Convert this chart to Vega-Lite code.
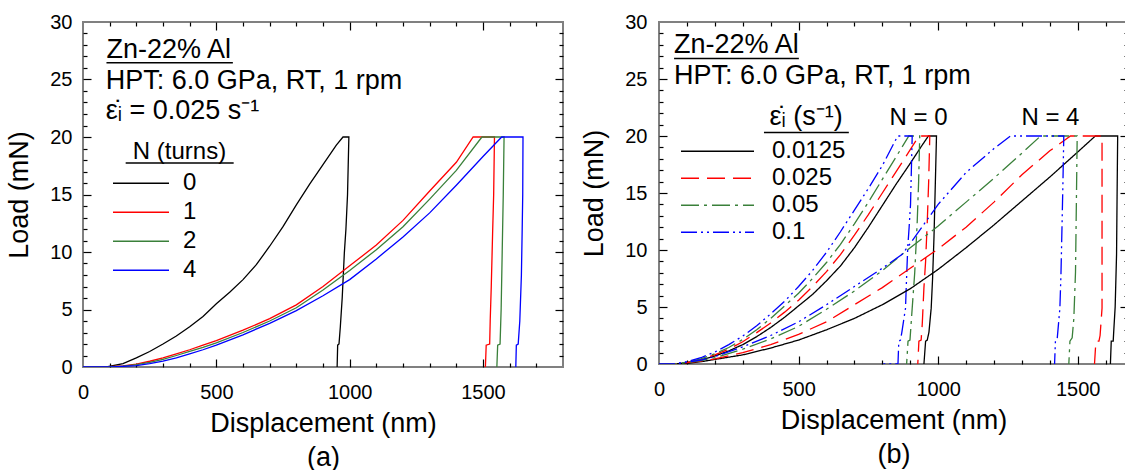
{
  "$schema": "https://vega.github.io/schema/vega-lite/v6.json",
  "padding": {"left": 4, "top": 11, "right": 0, "bottom": 0},
  "spacing": 14,
  "resolve": {"scale": {"color": "independent", "strokeDash": "independent"}, "legend": {"color": "independent", "strokeDash": "independent"}},
  "datasets": {
    "a": [
      {"N":"0","i":1,"d":0,"load":0},{"N":"0","i":2,"d":88,"load":0},{"N":"0","i":3,"d":150,"load":0.3},{"N":"0","i":4,"d":200,"load":0.8},{"N":"0","i":5,"d":250,"load":1.35},{"N":"0","i":6,"d":300,"load":2.0},{"N":"0","i":7,"d":350,"load":2.7},{"N":"0","i":8,"d":400,"load":3.5},{"N":"0","i":9,"d":450,"load":4.4},{"N":"0","i":10,"d":500,"load":5.5},{"N":"0","i":11,"d":550,"load":6.5},{"N":"0","i":12,"d":600,"load":7.6},{"N":"0","i":13,"d":650,"load":8.9},{"N":"0","i":14,"d":700,"load":10.5},{"N":"0","i":15,"d":750,"load":12.2},{"N":"0","i":16,"d":800,"load":14.1},{"N":"0","i":17,"d":850,"load":15.9},{"N":"0","i":18,"d":900,"load":17.6},{"N":"0","i":19,"d":950,"load":19.3},{"N":"0","i":20,"d":975,"load":20},{"N":"0","i":21,"d":997,"load":20},{"N":"0","i":22,"d":992,"load":15},{"N":"0","i":23,"d":986,"load":12},{"N":"0","i":24,"d":980,"load":9.9},{"N":"0","i":25,"d":972,"load":6},{"N":"0","i":26,"d":965,"load":3.5},{"N":"0","i":27,"d":960,"load":2.0},{"N":"0","i":28,"d":955,"load":1.9},{"N":"0","i":29,"d":953,"load":0},
      {"N":"1","i":1,"d":0,"load":0},{"N":"1","i":2,"d":80,"load":0},{"N":"1","i":3,"d":150,"load":0.1},{"N":"1","i":4,"d":200,"load":0.25},{"N":"1","i":5,"d":250,"load":0.5},{"N":"1","i":6,"d":300,"load":0.8},{"N":"1","i":7,"d":350,"load":1.15},{"N":"1","i":8,"d":400,"load":1.5},{"N":"1","i":9,"d":450,"load":1.9},{"N":"1","i":10,"d":500,"load":2.3},{"N":"1","i":11,"d":600,"load":3.2},{"N":"1","i":12,"d":700,"load":4.2},{"N":"1","i":13,"d":800,"load":5.4},{"N":"1","i":14,"d":900,"load":7.0},{"N":"1","i":15,"d":1000,"load":8.8},{"N":"1","i":16,"d":1100,"load":10.6},{"N":"1","i":17,"d":1200,"load":12.75},{"N":"1","i":18,"d":1300,"load":15.3},{"N":"1","i":19,"d":1400,"load":17.8},{"N":"1","i":20,"d":1463,"load":20},{"N":"1","i":21,"d":1543,"load":20},{"N":"1","i":22,"d":1540,"load":15},{"N":"1","i":23,"d":1536,"load":11.6},{"N":"1","i":24,"d":1531,"load":7},{"N":"1","i":25,"d":1527,"load":4},{"N":"1","i":26,"d":1525,"load":2},{"N":"1","i":27,"d":1512,"load":1.9},{"N":"1","i":28,"d":1509,"load":0},
      {"N":"2","i":1,"d":0,"load":0},{"N":"2","i":2,"d":90,"load":0},{"N":"2","i":3,"d":150,"load":0.08},{"N":"2","i":4,"d":200,"load":0.2},{"N":"2","i":5,"d":250,"load":0.4},{"N":"2","i":6,"d":300,"load":0.66},{"N":"2","i":7,"d":350,"load":1.0},{"N":"2","i":8,"d":400,"load":1.35},{"N":"2","i":9,"d":450,"load":1.7},{"N":"2","i":10,"d":500,"load":2.1},{"N":"2","i":11,"d":600,"load":3.0},{"N":"2","i":12,"d":700,"load":4.0},{"N":"2","i":13,"d":800,"load":5.15},{"N":"2","i":14,"d":900,"load":6.7},{"N":"2","i":15,"d":1000,"load":8.4},{"N":"2","i":16,"d":1100,"load":10.2},{"N":"2","i":17,"d":1200,"load":12.2},{"N":"2","i":18,"d":1300,"load":14.6},{"N":"2","i":19,"d":1400,"load":17.1},{"N":"2","i":20,"d":1496,"load":20},{"N":"2","i":21,"d":1579,"load":20},{"N":"2","i":22,"d":1576,"load":15},{"N":"2","i":23,"d":1572,"load":10},{"N":"2","i":24,"d":1568,"load":5},{"N":"2","i":25,"d":1564,"load":2},{"N":"2","i":26,"d":1555,"load":1.9},{"N":"2","i":27,"d":1552,"load":0},
      {"N":"4","i":1,"d":0,"load":0},{"N":"4","i":2,"d":110,"load":0},{"N":"4","i":3,"d":200,"load":0.12},{"N":"4","i":4,"d":250,"load":0.3},{"N":"4","i":5,"d":300,"load":0.52},{"N":"4","i":6,"d":350,"load":0.8},{"N":"4","i":7,"d":400,"load":1.15},{"N":"4","i":8,"d":450,"load":1.5},{"N":"4","i":9,"d":500,"load":1.9},{"N":"4","i":10,"d":600,"load":2.8},{"N":"4","i":11,"d":700,"load":3.8},{"N":"4","i":12,"d":800,"load":4.9},{"N":"4","i":13,"d":900,"load":6.2},{"N":"4","i":14,"d":1000,"load":7.6},{"N":"4","i":15,"d":1100,"load":9.4},{"N":"4","i":16,"d":1200,"load":11.3},{"N":"4","i":17,"d":1300,"load":13.4},{"N":"4","i":18,"d":1400,"load":15.8},{"N":"4","i":19,"d":1500,"load":18.3},{"N":"4","i":20,"d":1570,"load":20},{"N":"4","i":21,"d":1650,"load":20},{"N":"4","i":22,"d":1649,"load":15},{"N":"4","i":23,"d":1647,"load":12},{"N":"4","i":24,"d":1644,"load":8},{"N":"4","i":25,"d":1638,"load":4},{"N":"4","i":26,"d":1632,"load":2},{"N":"4","i":27,"d":1625,"load":1.9},{"N":"4","i":28,"d":1623,"load":0}
    ],
    "b": [
      {"rate":"0.0125","N":0,"i":1,"d":0,"load":0},{"rate":"0.0125","N":0,"i":2,"d":55,"load":0},{"rate":"0.0125","N":0,"i":3,"d":100,"load":0.12},{"rate":"0.0125","N":0,"i":4,"d":150,"load":0.35},{"rate":"0.0125","N":0,"i":5,"d":200,"load":0.7},{"rate":"0.0125","N":0,"i":6,"d":250,"load":1.15},{"rate":"0.0125","N":0,"i":7,"d":300,"load":1.7},{"rate":"0.0125","N":0,"i":8,"d":350,"load":2.4},{"rate":"0.0125","N":0,"i":9,"d":400,"load":3.2},{"rate":"0.0125","N":0,"i":10,"d":450,"load":4.1},{"rate":"0.0125","N":0,"i":11,"d":500,"load":5.1},{"rate":"0.0125","N":0,"i":12,"d":550,"load":6.1},{"rate":"0.0125","N":0,"i":13,"d":600,"load":7.3},{"rate":"0.0125","N":0,"i":14,"d":650,"load":8.6},{"rate":"0.0125","N":0,"i":15,"d":700,"load":10.2},{"rate":"0.0125","N":0,"i":16,"d":750,"load":12.0},{"rate":"0.0125","N":0,"i":17,"d":800,"load":13.9},{"rate":"0.0125","N":0,"i":18,"d":850,"load":15.8},{"rate":"0.0125","N":0,"i":19,"d":900,"load":17.6},{"rate":"0.0125","N":0,"i":20,"d":940,"load":19.1},{"rate":"0.0125","N":0,"i":21,"d":965,"load":20},{"rate":"0.0125","N":0,"i":22,"d":994,"load":20},{"rate":"0.0125","N":0,"i":23,"d":990,"load":16},{"rate":"0.0125","N":0,"i":24,"d":985,"load":11.1},{"rate":"0.0125","N":0,"i":25,"d":980,"load":7.5},{"rate":"0.0125","N":0,"i":26,"d":975,"load":4.9},{"rate":"0.0125","N":0,"i":27,"d":967,"load":2.8},{"rate":"0.0125","N":0,"i":28,"d":961,"load":2.1},{"rate":"0.0125","N":0,"i":29,"d":955,"load":2.0},{"rate":"0.0125","N":0,"i":30,"d":949,"load":0},
      {"rate":"0.025","N":0,"i":1,"d":0,"load":0},{"rate":"0.025","N":0,"i":2,"d":60,"load":0},{"rate":"0.025","N":0,"i":3,"d":100,"load":0.12},{"rate":"0.025","N":0,"i":4,"d":150,"load":0.4},{"rate":"0.025","N":0,"i":5,"d":200,"load":0.8},{"rate":"0.025","N":0,"i":6,"d":250,"load":1.3},{"rate":"0.025","N":0,"i":7,"d":300,"load":1.95},{"rate":"0.025","N":0,"i":8,"d":350,"load":2.75},{"rate":"0.025","N":0,"i":9,"d":400,"load":3.6},{"rate":"0.025","N":0,"i":10,"d":450,"load":4.55},{"rate":"0.025","N":0,"i":11,"d":500,"load":5.6},{"rate":"0.025","N":0,"i":12,"d":550,"load":6.8},{"rate":"0.025","N":0,"i":13,"d":600,"load":8.1},{"rate":"0.025","N":0,"i":14,"d":650,"load":9.6},{"rate":"0.025","N":0,"i":15,"d":700,"load":11.3},{"rate":"0.025","N":0,"i":16,"d":750,"load":13.1},{"rate":"0.025","N":0,"i":17,"d":800,"load":15.0},{"rate":"0.025","N":0,"i":18,"d":850,"load":16.9},{"rate":"0.025","N":0,"i":19,"d":900,"load":18.8},{"rate":"0.025","N":0,"i":20,"d":931,"load":20},{"rate":"0.025","N":0,"i":21,"d":970,"load":20},{"rate":"0.025","N":0,"i":22,"d":966,"load":16},{"rate":"0.025","N":0,"i":23,"d":961,"load":12.5},{"rate":"0.025","N":0,"i":24,"d":955,"load":9},{"rate":"0.025","N":0,"i":25,"d":949,"load":6.7},{"rate":"0.025","N":0,"i":26,"d":943,"load":3.5},{"rate":"0.025","N":0,"i":27,"d":939,"load":2.1},{"rate":"0.025","N":0,"i":28,"d":931,"load":2.0},{"rate":"0.025","N":0,"i":29,"d":927,"load":0},
      {"rate":"0.05","N":0,"i":1,"d":0,"load":0},{"rate":"0.05","N":0,"i":2,"d":60,"load":0},{"rate":"0.05","N":0,"i":3,"d":100,"load":0.15},{"rate":"0.05","N":0,"i":4,"d":150,"load":0.45},{"rate":"0.05","N":0,"i":5,"d":200,"load":0.9},{"rate":"0.05","N":0,"i":6,"d":250,"load":1.45},{"rate":"0.05","N":0,"i":7,"d":300,"load":2.15},{"rate":"0.05","N":0,"i":8,"d":350,"load":3.0},{"rate":"0.05","N":0,"i":9,"d":400,"load":4.0},{"rate":"0.05","N":0,"i":10,"d":450,"load":5.1},{"rate":"0.05","N":0,"i":11,"d":500,"load":6.2},{"rate":"0.05","N":0,"i":12,"d":550,"load":7.5},{"rate":"0.05","N":0,"i":13,"d":600,"load":8.9},{"rate":"0.05","N":0,"i":14,"d":650,"load":10.5},{"rate":"0.05","N":0,"i":15,"d":700,"load":12.3},{"rate":"0.05","N":0,"i":16,"d":750,"load":14.2},{"rate":"0.05","N":0,"i":17,"d":800,"load":16.2},{"rate":"0.05","N":0,"i":18,"d":850,"load":18.2},{"rate":"0.05","N":0,"i":19,"d":895,"load":20},{"rate":"0.05","N":0,"i":20,"d":934,"load":20},{"rate":"0.05","N":0,"i":21,"d":930,"load":16},{"rate":"0.05","N":0,"i":22,"d":925,"load":12.5},{"rate":"0.05","N":0,"i":23,"d":916,"load":8},{"rate":"0.05","N":0,"i":24,"d":907,"load":4.9},{"rate":"0.05","N":0,"i":25,"d":899,"load":2.1},{"rate":"0.05","N":0,"i":26,"d":892,"load":2.0},{"rate":"0.05","N":0,"i":27,"d":887,"load":0},
      {"rate":"0.1","N":0,"i":1,"d":0,"load":0},{"rate":"0.1","N":0,"i":2,"d":55,"load":0},{"rate":"0.1","N":0,"i":3,"d":100,"load":0.2},{"rate":"0.1","N":0,"i":4,"d":150,"load":0.55},{"rate":"0.1","N":0,"i":5,"d":200,"load":1.05},{"rate":"0.1","N":0,"i":6,"d":250,"load":1.7},{"rate":"0.1","N":0,"i":7,"d":300,"load":2.45},{"rate":"0.1","N":0,"i":8,"d":350,"load":3.35},{"rate":"0.1","N":0,"i":9,"d":400,"load":4.4},{"rate":"0.1","N":0,"i":10,"d":450,"load":5.5},{"rate":"0.1","N":0,"i":11,"d":500,"load":6.8},{"rate":"0.1","N":0,"i":12,"d":550,"load":8.2},{"rate":"0.1","N":0,"i":13,"d":600,"load":9.8},{"rate":"0.1","N":0,"i":14,"d":650,"load":11.6},{"rate":"0.1","N":0,"i":15,"d":700,"load":13.5},{"rate":"0.1","N":0,"i":16,"d":750,"load":15.4},{"rate":"0.1","N":0,"i":17,"d":800,"load":17.4},{"rate":"0.1","N":0,"i":18,"d":855,"load":20},{"rate":"0.1","N":0,"i":19,"d":907,"load":20},{"rate":"0.1","N":0,"i":20,"d":904,"load":17},{"rate":"0.1","N":0,"i":21,"d":901,"load":14},{"rate":"0.1","N":0,"i":22,"d":896,"load":12},{"rate":"0.1","N":0,"i":23,"d":891,"load":10.2},{"rate":"0.1","N":0,"i":24,"d":886,"load":7},{"rate":"0.1","N":0,"i":25,"d":883,"load":4.9},{"rate":"0.1","N":0,"i":26,"d":870,"load":2.8},{"rate":"0.1","N":0,"i":27,"d":865,"load":2.1},{"rate":"0.1","N":0,"i":28,"d":859,"load":2.0},{"rate":"0.1","N":0,"i":29,"d":856,"load":0},{"rate":"0.1","N":0,"i":30,"d":800,"load":0},
      {"rate":"0.0125","N":4,"i":1,"d":0,"load":0},{"rate":"0.0125","N":4,"i":2,"d":60,"load":0},{"rate":"0.0125","N":4,"i":3,"d":100,"load":0.05},{"rate":"0.0125","N":4,"i":4,"d":150,"load":0.2},{"rate":"0.0125","N":4,"i":5,"d":200,"load":0.4},{"rate":"0.0125","N":4,"i":6,"d":250,"load":0.6},{"rate":"0.0125","N":4,"i":7,"d":300,"load":0.8},{"rate":"0.0125","N":4,"i":8,"d":400,"load":1.4},{"rate":"0.0125","N":4,"i":9,"d":500,"load":2.1},{"rate":"0.0125","N":4,"i":10,"d":600,"load":3.0},{"rate":"0.0125","N":4,"i":11,"d":700,"load":4.0},{"rate":"0.0125","N":4,"i":12,"d":800,"load":5.2},{"rate":"0.0125","N":4,"i":13,"d":900,"load":6.6},{"rate":"0.0125","N":4,"i":14,"d":1000,"load":8.3},{"rate":"0.0125","N":4,"i":15,"d":1100,"load":10.2},{"rate":"0.0125","N":4,"i":16,"d":1200,"load":12.2},{"rate":"0.0125","N":4,"i":17,"d":1300,"load":14.3},{"rate":"0.0125","N":4,"i":18,"d":1400,"load":16.4},{"rate":"0.0125","N":4,"i":19,"d":1500,"load":18.6},{"rate":"0.0125","N":4,"i":20,"d":1563,"load":20},{"rate":"0.0125","N":4,"i":21,"d":1643,"load":20},{"rate":"0.0125","N":4,"i":22,"d":1641,"load":15},{"rate":"0.0125","N":4,"i":23,"d":1639,"load":9.6},{"rate":"0.0125","N":4,"i":24,"d":1634,"load":5},{"rate":"0.0125","N":4,"i":25,"d":1629,"load":2.9},{"rate":"0.0125","N":4,"i":26,"d":1627,"load":2.0},{"rate":"0.0125","N":4,"i":27,"d":1620,"load":2.0},{"rate":"0.0125","N":4,"i":28,"d":1617,"load":0},
      {"rate":"0.025","N":4,"i":1,"d":0,"load":0},{"rate":"0.025","N":4,"i":2,"d":60,"load":0},{"rate":"0.025","N":4,"i":3,"d":150,"load":0.25},{"rate":"0.025","N":4,"i":4,"d":200,"load":0.45},{"rate":"0.025","N":4,"i":5,"d":300,"load":1.0},{"rate":"0.025","N":4,"i":6,"d":400,"load":1.7},{"rate":"0.025","N":4,"i":7,"d":500,"load":2.6},{"rate":"0.025","N":4,"i":8,"d":600,"load":3.7},{"rate":"0.025","N":4,"i":9,"d":700,"load":5.2},{"rate":"0.025","N":4,"i":10,"d":800,"load":6.7},{"rate":"0.025","N":4,"i":11,"d":900,"load":8.4},{"rate":"0.025","N":4,"i":12,"d":1000,"load":10.1},{"rate":"0.025","N":4,"i":13,"d":1100,"load":12.0},{"rate":"0.025","N":4,"i":14,"d":1200,"load":14.2},{"rate":"0.025","N":4,"i":15,"d":1300,"load":16.6},{"rate":"0.025","N":4,"i":16,"d":1400,"load":18.7},{"rate":"0.025","N":4,"i":17,"d":1474,"load":20},{"rate":"0.025","N":4,"i":18,"d":1587,"load":20},{"rate":"0.025","N":4,"i":19,"d":1587,"load":4.9},{"rate":"0.025","N":4,"i":20,"d":1580,"load":2.5},{"rate":"0.025","N":4,"i":21,"d":1576,"load":2.0},{"rate":"0.025","N":4,"i":22,"d":1565,"load":2.0},{"rate":"0.025","N":4,"i":23,"d":1560,"load":0},
      {"rate":"0.05","N":4,"i":1,"d":0,"load":0},{"rate":"0.05","N":4,"i":2,"d":60,"load":0},{"rate":"0.05","N":4,"i":3,"d":150,"load":0.3},{"rate":"0.05","N":4,"i":4,"d":200,"load":0.55},{"rate":"0.05","N":4,"i":5,"d":300,"load":1.3},{"rate":"0.05","N":4,"i":6,"d":400,"load":2.2},{"rate":"0.05","N":4,"i":7,"d":500,"load":3.3},{"rate":"0.05","N":4,"i":8,"d":600,"load":4.8},{"rate":"0.05","N":4,"i":9,"d":700,"load":6.4},{"rate":"0.05","N":4,"i":10,"d":800,"load":8.2},{"rate":"0.05","N":4,"i":11,"d":900,"load":10.2},{"rate":"0.05","N":4,"i":12,"d":1000,"load":12.1},{"rate":"0.05","N":4,"i":13,"d":1100,"load":14.2},{"rate":"0.05","N":4,"i":14,"d":1200,"load":16.3},{"rate":"0.05","N":4,"i":15,"d":1300,"load":18.5},{"rate":"0.05","N":4,"i":16,"d":1367,"load":20},{"rate":"0.05","N":4,"i":17,"d":1498,"load":20},{"rate":"0.05","N":4,"i":18,"d":1495,"load":14},{"rate":"0.05","N":4,"i":19,"d":1492,"load":8.1},{"rate":"0.05","N":4,"i":20,"d":1486,"load":4},{"rate":"0.05","N":4,"i":21,"d":1480,"load":2.3},{"rate":"0.05","N":4,"i":22,"d":1472,"load":2.0},{"rate":"0.05","N":4,"i":23,"d":1468,"load":0},
      {"rate":"0.1","N":4,"i":1,"d":0,"load":0},{"rate":"0.1","N":4,"i":2,"d":55,"load":0},{"rate":"0.1","N":4,"i":3,"d":150,"load":0.35},{"rate":"0.1","N":4,"i":4,"d":200,"load":0.65},{"rate":"0.1","N":4,"i":5,"d":300,"load":1.5},{"rate":"0.1","N":4,"i":6,"d":400,"load":2.5},{"rate":"0.1","N":4,"i":7,"d":500,"load":3.7},{"rate":"0.1","N":4,"i":8,"d":600,"load":5.2},{"rate":"0.1","N":4,"i":9,"d":700,"load":6.8},{"rate":"0.1","N":4,"i":10,"d":800,"load":8.4},{"rate":"0.1","N":4,"i":11,"d":870,"load":9.6},{"rate":"0.1","N":4,"i":12,"d":895,"load":10.4},{"rate":"0.1","N":4,"i":13,"d":1000,"load":14.0},{"rate":"0.1","N":4,"i":14,"d":1100,"load":16.8},{"rate":"0.1","N":4,"i":15,"d":1200,"load":18.9},{"rate":"0.1","N":4,"i":16,"d":1259,"load":20},{"rate":"0.1","N":4,"i":17,"d":1450,"load":20},{"rate":"0.1","N":4,"i":18,"d":1447,"load":16},{"rate":"0.1","N":4,"i":19,"d":1444,"load":12.5},{"rate":"0.1","N":4,"i":20,"d":1440,"load":8},{"rate":"0.1","N":4,"i":21,"d":1436,"load":4.9},{"rate":"0.1","N":4,"i":22,"d":1426,"load":2.1},{"rate":"0.1","N":4,"i":23,"d":1420,"load":2.0},{"rate":"0.1","N":4,"i":24,"d":1417,"load":0}
    ]
  },
  "hconcat": [
    {
      "width": 480,
      "height": 345,
      "resolve": {"axis": {"x": "independent", "y": "independent"}},
      "layer": [
        {
          "data": {"name": "a"},
          "mark": {"type": "line", "strokeWidth": 1.3, "clip": true},
          "encoding": {
            "x": {"field": "d", "type": "quantitative", "scale": {"domain": [0, 1800], "nice": false},
              "axis": {"orient": "bottom", "values": [0, 500, 1000, 1500], "format": "d", "ticks": false, "tickSize": 0, "domain": false, "labelFontSize": 20, "labelPadding": 15, "title": ["Displacement (nm)", "(a)"], "titleFontSize": 27, "titlePadding": 8, "titleLineHeight": 34}},
            "y": {"field": "load", "type": "quantitative", "scale": {"domain": [0, 30], "nice": false},
              "axis": {"orient": "left", "values": [0, 5, 10, 15, 20, 25, 30], "ticks": false, "tickSize": 0, "domain": false, "labelFontSize": 20, "labelPadding": 11, "title": "Load (mN)", "titleFontSize": 27, "titlePadding": 16}},
            "color": {"field": "N", "type": "nominal", "scale": {"domain": ["0", "1", "2", "4"], "range": ["#000000", "#ff0000", "#3a803a", "#0000ff"]},
              "legend": {"orient": "none", "legendX": 29, "legendY": 148, "title": null, "symbolType": "stroke", "symbolSize": 3136, "symbolStrokeWidth": 1.5, "labelFontSize": 24, "labelOffset": 13, "clipHeight": 26.3, "rowPadding": 2, "padding": 0}},
            "order": {"field": "i", "type": "quantitative"}
          }
        },
        {
          "data": {"values": [{}]},
          "mark": {"type": "text", "align": "left", "baseline": "alphabetic", "fontSize": 27, "color": "black"},
          "encoding": {
            "x": {"datum": 88, "type": "quantitative", "axis": {"orient": "bottom", "values": [500, 1000, 1500], "labels": false, "domain": false, "ticks": true, "tickSize": -8, "title": null}},
            "y": {"datum": 26.87, "type": "quantitative", "axis": {"orient": "left", "values": [5, 10, 15, 20, 25], "labels": false, "domain": false, "ticks": true, "tickSize": -8, "title": null}},
            "text": {"value": "Zn-22% Al"}
          }
        },
        {
          "data": {"values": [{}]},
          "mark": {"type": "text", "align": "left", "baseline": "alphabetic", "fontSize": 27, "color": "black"},
          "encoding": {
            "x": {"datum": 85, "type": "quantitative", "axis": {"orient": "bottom", "values": [100, 200, 300, 400, 600, 700, 800, 900, 1100, 1200, 1300, 1400, 1600, 1700], "labels": false, "domain": false, "ticks": true, "tickSize": -4, "title": null}},
            "y": {"datum": 24.17, "type": "quantitative", "axis": {"orient": "left", "values": [1, 2, 3, 4, 6, 7, 8, 9, 11, 12, 13, 14, 16, 17, 18, 19, 21, 22, 23, 24, 26, 27, 28, 29], "labels": false, "domain": false, "ticks": true, "tickSize": -4, "title": null}},
            "text": {"value": "HPT: 6.0 GPa, RT, 1 rpm"}
          }
        },
        {
          "data": {"values": [{}]},
          "mark": {"type": "text", "align": "left", "baseline": "alphabetic", "fontSize": 27, "color": "black"},
          "encoding": {
            "x": {"datum": 85, "type": "quantitative", "axis": {"orient": "top", "values": [500, 1000, 1500], "labels": false, "domain": false, "ticks": true, "tickSize": -8, "title": null}},
            "y": {"datum": 21.57, "type": "quantitative", "axis": {"orient": "right", "values": [5, 10, 15, 20, 25], "labels": false, "domain": false, "ticks": true, "tickSize": -8, "title": null}},
            "text": {"value": "\u03b5\u0307\u1d62 = 0.025 s\u207b\u00b9"}
          }
        },
        {
          "data": {"values": [{}]},
          "mark": {"type": "text", "align": "center", "baseline": "alphabetic", "fontSize": 24, "color": "black"},
          "encoding": {
            "x": {"datum": 362, "type": "quantitative", "axis": {"orient": "top", "values": [100, 200, 300, 400, 600, 700, 800, 900, 1100, 1200, 1300, 1400, 1600, 1700], "labels": false, "domain": false, "ticks": true, "tickSize": -4, "title": null}},
            "y": {"datum": 18.09, "type": "quantitative", "axis": {"orient": "right", "values": [1, 2, 3, 4, 6, 7, 8, 9, 11, 12, 13, 14, 16, 17, 18, 19, 21, 22, 23, 24, 26, 27, 28, 29], "labels": false, "domain": false, "ticks": true, "tickSize": -4, "title": null}},
            "text": {"value": "N (turns)"}
          }
        },
        {
          "data": {"values": [{}]},
          "mark": {"type": "rule", "strokeWidth": 1.5, "color": "black"},
          "encoding": {
            "x": {"datum": 88, "type": "quantitative", "axis": null},
            "x2": {"datum": 562},
            "y": {"datum": 26.46, "type": "quantitative", "axis": null}
          }
        },
        {
          "data": {"values": [{}]},
          "mark": {"type": "rule", "strokeWidth": 1.5, "color": "black"},
          "encoding": {
            "x": {"datum": 160, "type": "quantitative", "axis": null},
            "x2": {"datum": 565},
            "y": {"datum": 17.74, "type": "quantitative", "axis": null}
          }
        }
      ]
    },
    {
      "width": 469,
      "height": 342,
      "resolve": {"axis": {"x": "independent", "y": "independent"}},
      "layer": [
        {
          "data": {"name": "b"},
          "mark": {"type": "line", "strokeWidth": 1.3, "clip": true},
          "encoding": {
            "x": {"field": "d", "type": "quantitative", "scale": {"domain": [0, 1680], "nice": false},
              "axis": {"orient": "bottom", "values": [0, 500, 1000, 1500], "format": "d", "ticks": false, "tickSize": 0, "domain": false, "labelFontSize": 20, "labelPadding": 15, "title": ["Displacement (nm)", "(b)"], "titleFontSize": 27, "titlePadding": 8, "titleLineHeight": 34}},
            "y": {"field": "load", "type": "quantitative", "scale": {"domain": [0, 30], "nice": false},
              "axis": {"orient": "left", "values": [0, 5, 10, 15, 20, 25, 30], "ticks": false, "tickSize": 0, "domain": false, "labelFontSize": 20, "labelPadding": 12, "title": "Load (mN)", "titleFontSize": 27, "titlePadding": 16}},
            "color": {"field": "rate", "type": "nominal", "scale": {"domain": ["0.0125", "0.025", "0.05", "0.1"], "range": ["#000000", "#ff0000", "#3a803a", "#0000ff"]},
              "legend": {"orient": "none", "legendX": 21, "legendY": 117.5, "title": null, "symbolType": "stroke", "symbolSize": 5329, "symbolStrokeWidth": 1.5, "labelFontSize": 24, "labelOffset": 17, "clipHeight": 23.7, "rowPadding": 2, "padding": 0}},
            "strokeDash": {"field": "rate", "type": "nominal", "scale": {"domain": ["0.0125", "0.025", "0.05", "0.1"], "range": [[1, 0], [18, 8], [18, 5, 3, 5], [16, 4, 2, 4, 2, 4]]},
              "legend": {"orient": "none", "legendX": 21, "legendY": 117.5, "title": null, "symbolType": "stroke", "symbolSize": 5329, "symbolStrokeWidth": 1.5, "labelFontSize": 24, "labelOffset": 17, "clipHeight": 23.7, "rowPadding": 2, "padding": 0}},
            "detail": {"field": "N", "type": "nominal"},
            "order": {"field": "i", "type": "quantitative"}
          }
        },
        {
          "data": {"values": [{}]},
          "mark": {"type": "text", "align": "left", "baseline": "alphabetic", "fontSize": 27, "color": "black"},
          "encoding": {
            "x": {"datum": 54, "type": "quantitative", "axis": {"orient": "bottom", "values": [500, 1000, 1500], "labels": false, "domain": false, "ticks": true, "tickSize": -8, "title": null}},
            "y": {"datum": 27.25, "type": "quantitative", "axis": {"orient": "left", "values": [5, 10, 15, 20, 25], "labels": false, "domain": false, "ticks": true, "tickSize": -8, "title": null}},
            "text": {"value": "Zn-22% Al"}
          }
        },
        {
          "data": {"values": [{}]},
          "mark": {"type": "text", "align": "left", "baseline": "alphabetic", "fontSize": 27, "color": "black"},
          "encoding": {
            "x": {"datum": 54, "type": "quantitative", "axis": {"orient": "bottom", "values": [100, 200, 300, 400, 600, 700, 800, 900, 1100, 1200, 1300, 1400, 1600], "labels": false, "domain": false, "ticks": true, "tickSize": -4, "title": null}},
            "y": {"datum": 24.6, "type": "quantitative", "axis": {"orient": "left", "values": [1, 2, 3, 4, 6, 7, 8, 9, 11, 12, 13, 14, 16, 17, 18, 19, 21, 22, 23, 24, 26, 27, 28, 29], "labels": false, "domain": false, "ticks": true, "tickSize": -4, "title": null}},
            "text": {"value": "HPT: 6.0 GPa, RT, 1 rpm"}
          }
        },
        {
          "data": {"values": [{}]},
          "mark": {"type": "text", "align": "center", "baseline": "alphabetic", "fontSize": 27, "color": "black"},
          "encoding": {
            "x": {"datum": 527, "type": "quantitative", "axis": {"orient": "top", "values": [500, 1000, 1500], "labels": false, "domain": false, "ticks": true, "tickSize": -8, "title": null}},
            "y": {"datum": 21.0, "type": "quantitative", "axis": {"orient": "right", "values": [5, 10, 15, 20, 25], "labels": false, "domain": false, "ticks": true, "tickSize": -8, "title": null}},
            "text": {"value": "\u03b5\u0307\u1d62 (s\u207b\u00b9)"}
          }
        },
        {
          "data": {"values": [{}]},
          "mark": {"type": "text", "align": "center", "baseline": "alphabetic", "fontSize": 24, "color": "black"},
          "encoding": {
            "x": {"datum": 930, "type": "quantitative", "axis": {"orient": "top", "values": [100, 200, 300, 400, 600, 700, 800, 900, 1100, 1200, 1300, 1400, 1600], "labels": false, "domain": false, "ticks": true, "tickSize": -4, "title": null}},
            "y": {"datum": 21.0, "type": "quantitative", "axis": {"orient": "right", "values": [1, 2, 3, 4, 6, 7, 8, 9, 11, 12, 13, 14, 16, 17, 18, 19, 21, 22, 23, 24, 26, 27, 28, 29], "labels": false, "domain": false, "ticks": true, "tickSize": -4, "title": null}},
            "text": {"value": "N = 0"}
          }
        },
        {
          "data": {"values": [{}]},
          "mark": {"type": "text", "align": "center", "baseline": "alphabetic", "fontSize": 24, "color": "black"},
          "encoding": {
            "x": {"datum": 1402, "type": "quantitative", "axis": null},
            "y": {"datum": 21.0, "type": "quantitative", "axis": null},
            "text": {"value": "N = 4"}
          }
        },
        {
          "data": {"values": [{}]},
          "mark": {"type": "rule", "strokeWidth": 1.5, "color": "black"},
          "encoding": {
            "x": {"datum": 54, "type": "quantitative", "axis": null},
            "x2": {"datum": 501},
            "y": {"datum": 26.8, "type": "quantitative", "axis": null}
          }
        },
        {
          "data": {"values": [{}]},
          "mark": {"type": "rule", "strokeWidth": 1.5, "color": "black"},
          "encoding": {
            "x": {"datum": 376, "type": "quantitative", "axis": null},
            "x2": {"datum": 680},
            "y": {"datum": 20.3, "type": "quantitative", "axis": null}
          }
        }
      ]
    }
  ],
  "config": {
    "font": "Liberation Sans",
    "view": {"stroke": "#808080", "strokeWidth": 2},
    "axis": {"grid": false, "labelFont": "Liberation Sans", "titleFont": "Liberation Sans", "labelColor": "#000000", "titleColor": "#000000", "titleFontWeight": "normal", "tickColor": "#000000", "tickWidth": 1.2, "labelFlush": false, "labelOverlap": false, "zindex": 1},
    "legend": {"labelFont": "Liberation Sans", "labelColor": "#000000"},
    "text": {"font": "Liberation Sans"}
  }
}
